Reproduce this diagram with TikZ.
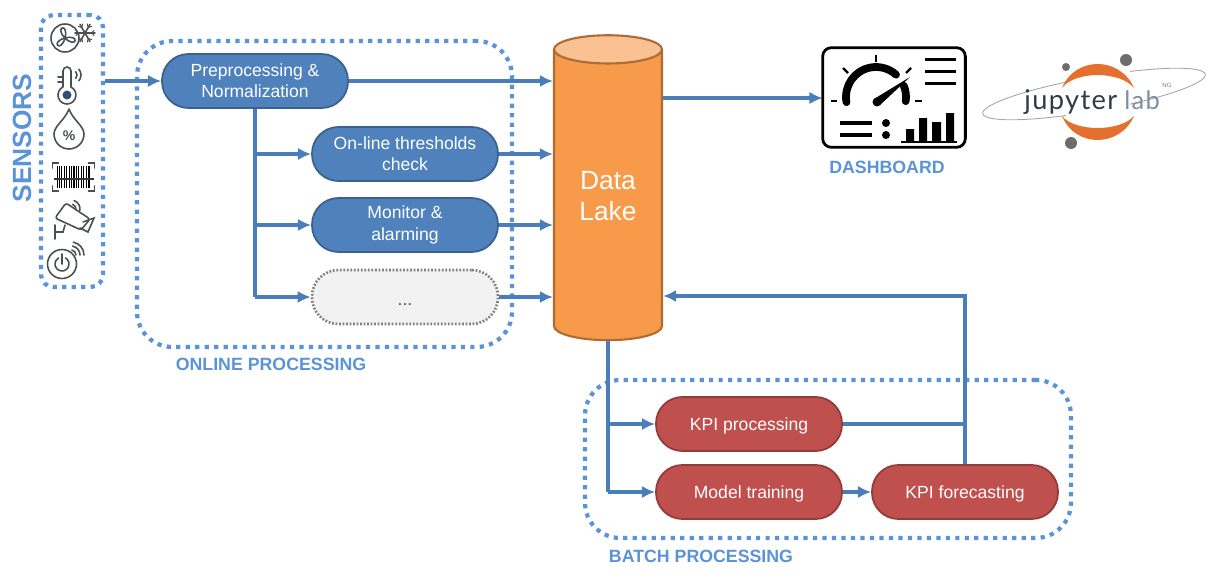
\documentclass[tikz,border=0pt]{standalone}
\usepackage{fontspec}
\setmainfont{Liberation Sans}
\newfontfamily\logofont[LetterSpace=5]{Lato}
\usetikzlibrary{shapes.geometric,arrows.meta}
\definecolor{lineblue}{HTML}{4A7EBB}
\definecolor{dotblue}{HTML}{5B93D8}
\definecolor{boxblue}{HTML}{4F81BD}
\definecolor{boxred}{HTML}{C0504D}
\definecolor{lakeorange}{HTML}{F79A4A}
\definecolor{icongray}{HTML}{4A4F55}
\definecolor{logoorange}{HTML}{E5702D}
\definecolor{logodark}{HTML}{2F3B45}
\definecolor{logolab}{HTML}{7A90A4}
\tikzset{
  flow/.style={draw=lineblue, line width=2.1pt, -{Latex[length=7.5pt,width=7pt]}},
  plainflow/.style={draw=lineblue, line width=2.1pt},
  group/.style={draw=dotblue, line width=2.4pt, dash pattern=on 2.4pt off 3pt, rounded corners=20pt, inner sep=0pt},
  pill/.style={rounded corners=15pt, minimum width=3.72cm, minimum height=1.08cm, align=center, text=white, font=\fontsize{10pt}{12.2pt}\selectfont, line width=1pt, execute at begin node={\rule{0pt}{9.3pt}}},
  onlinebox/.style={pill, draw=boxblue!75!black, fill=boxblue},
  batchbox/.style={pill, draw=boxred!75!black, fill=boxred},
  caption/.style={text=dotblue, font=\bfseries\fontsize{10.1pt}{12pt}\selectfont, inner sep=0pt},
  icon/.style={draw=icongray, line width=.9pt, line cap=round},
  darkbar/.style={draw=black, line width=1.9pt},
}
\begin{document}
\begin{tikzpicture}[x=.02cm, y=-.02cm]
\useasboundingbox (0,0) rectangle (1224,578);
% groups
\node[group, rounded corners=7pt, minimum width=1.24cm, minimum height=5.44cm] (sensors) at (72,151) {};
\node[group, minimum width=7.5cm, minimum height=6.12cm] (online) at (324.5,194) {};
\node[group, minimum width=9.72cm, minimum height=3.16cm] (batch) at (828,459) {};
% blocks
\node[onlinebox] (prep) at (255,81) {Preprocessing \&\\Normalization};
\node[onlinebox] (thresh) at (405,154) {On-line thresholds\\check};
\node[onlinebox] (monitor) at (405,225) {Monitor \&\\alarming};
\node[pill, draw=gray, fill=gray!10, densely dotted, line width=1.5pt, text=black!70, execute at begin node={\rule{0pt}{8pt}}] (more) at (405,297) {...};
\node[batchbox] (kpi) at (749,424) {KPI processing};
\node[batchbox] (train) at (749,492) {Model training};
\node[batchbox] (forecast) at (965,492) {KPI forecasting};
\node[cylinder, shape border rotate=90, aspect=.41, draw=lakeorange!70!black, line width=1.2pt,
  cylinder uses custom fill, cylinder body fill=lakeorange, cylinder end fill=lakeorange!60!white,
  minimum width=2.16cm, minimum height=6.1cm, align=center, text=white,
  font=\fontsize{15pt}{17.7pt}\selectfont, execute at end node={\rule[-2.8pt]{0pt}{2.8pt}}] (lake) at (608,198.5) {Data\\Lake};
\node[minimum width=2.84cm, minimum height=1.98cm, inner sep=0pt] (dash) at (894,97.5) {};
% captions
\node[caption, rotate=90, font=\bfseries\fontsize{15pt}{16pt}\selectfont] (sensorstxt) at (22,138) {SENSORS};
\node[caption] (onlinetxt) at (271,364) {ONLINE PROCESSING};
\node[caption] (batchtxt) at (701,556) {BATCH PROCESSING};
\node[caption] (dashtxt) at (887,167) {DASHBOARD};
% connectors
\draw[flow] (sensors.east |- prep.west) -- (prep.west);
\draw[flow] (prep.east) -- (prep.east -| lake.west);
\draw[plainflow] (prep.south) -- (prep.south |- more.west);
\foreach \n in {thresh,monitor,more}{
  \draw[flow] (prep.south |- \n.west) -- (\n.west);
  \draw[flow] (\n.east) -- (\n.east -| lake.west);
}
\coordinate (lakeout) at (lake.east |- 0,98);
\coordinate (dashin) at (dash.west |- 0,98);
\draw[flow] (lakeout) -- (dashin);
\coordinate (lakein) at (lake.east |- 0,296);
\draw[plainflow] (lake.bottom) -- (lake.bottom |- train.west);
\draw[flow] (lake.bottom |- kpi.west) -- (kpi.west);
\draw[flow] (lake.bottom |- train.west) -- (train.west);
\draw[flow] (train.east) -- (forecast.west);
\draw[plainflow] (kpi.east) -- (kpi.east -| forecast.north);
\draw[flow] (forecast.north) -- (forecast.north |- lakein) -- (lakein);
% sensor icons
\begin{scope}[shift={(65,38)}]
  \draw[icon] (0,0) circle (14);
  \foreach \a in {-90,30,150}
    \draw[icon] (0,0) .. controls (\a-45:16) and (\a+15:16) .. (0,0);
\end{scope}
\begin{scope}[shift={(85,33)}]
  \foreach \a in {0,60,...,300}{
    \draw[icon] (0,0) -- (\a:10);
    \draw[icon, line width=.6pt] (\a:6.5) -- ++(\a+45:3.5) (\a:6.5) -- ++(\a-45:3.5);
  }
\end{scope}
\begin{scope}[shift={(67,95)}]
  \draw[icon] (-4,-8) -- (-4,-24) arc (-180:0:4) -- (4,-8) arc (-63.4:243.4:9);
  \fill[boxblue!60!black] (0,0) circle (4.5);
  \draw[icon] (-4,-18) -- (-9,-18) (-4,-13) -- (-9,-13);
  \foreach \r in {5,9}
    \draw[icon] (5,-20) ++(-40:\r) arc (-40:40:\r);
\end{scope}
\begin{scope}[shift={(69,134)}]
  \draw[icon] (0,-25) .. controls (-4,-14) and (-15,-8) .. (-15,0) arc (180:0:15) .. controls (15,-8) and (4,-14) .. (0,-25);
  \node[text=icongray, font=\bfseries\fontsize{8pt}{8pt}\selectfont, inner sep=0pt] (pct) at (0,2) {\%};
\end{scope}
\begin{scope}[shift={(73.5,177)}]
  \foreach \x/\w in {-16/1,-14/.5,-12/.8,-9.5/.5,-7/1.1,-4/.5,-2/.8,.5/1.1,3/.5,5/.9,8/.5,10/1.1,13/.5,15.5/1}
    \draw[black, line width=\w pt] (\x,-11) -- (\x,11);
  \draw[white, line width=1.2pt] (-20,2) -- (20,2);
  \draw[black!80, line width=.7pt] (-20,2) -- (20,2);
  \draw[icon] (-15,-14) -- (-21,-14) -- (-21,-9) (15,-14) -- (21,-14) -- (21,-9);
  \draw[icon] (-15,14) -- (-21,14) -- (-21,9) (15,14) -- (21,14) -- (21,9);
\end{scope}
\begin{scope}
  \draw[icon, rounded corners=1.5pt] (55,218) -- (66,203) -- (90,219) -- (81,230) -- cycle;
  \draw[icon] (83,222) -- (94,218) -- (88,232) -- (80,228);
  \draw[icon] (65,225) -- (63,232) -- (55,232) (55,225) -- (55,239);
  \foreach \r in {5,9}
    \draw[icon] (71,209) ++(-70:\r) arc (-70:10:\r);
\end{scope}
\begin{scope}[shift={(62,264)}]
  \draw[icon] (0,0) circle (14.5);
  \draw[icon] (-60:7) arc (-60:240:7);
  \draw[icon] (0,-10) -- (0,0);
  \foreach \r in {5,9,13}
    \draw[icon] (9,-9) ++(-80:\r) arc (-80:0:\r);
\end{scope}
% dashboard
\draw[black, line width=1.6pt, rounded corners=5pt] (dash.north west) rectangle (dash.south east);
\begin{scope}[shift={(876,97)}]
  \draw[black, line width=4.4pt, line cap=round] (170:30) arc (170:312:30);
  \draw[black, line width=4.4pt, line cap=round] (-22:30) arc (-22:8:30);
  \fill[black] (1,5) circle (4.5);
  \fill[black] (-2,2) -- (34,-20) -- (4,8) -- cycle;
  \draw[black, line width=1.3pt] (0,-35) -- (0,-42);
  \draw[black, line width=1.3pt] (-28,-24) -- (-33,-29) (30,-24) -- (35,-29);
  \draw[black, line width=1.3pt] (-45,4) -- (-39,4) (39,4) -- (46,4);
\end{scope}
\foreach \y in {59.3,71.7,83.3}
  \draw[darkbar] (925,\y) -- (956,\y);
\foreach \y in {123,135}
  \draw[darkbar] (840,\y) -- (872,\y);
\fill[black] (886,123) circle (4) (886,135) circle (4);
\draw[black, line width=1pt] (901,141.7) -- (957,141.7);
\fill[black] (906,129) rectangle (914,141) (919,118) rectangle (927,141) (932,122) rectangle (941,141) (946,113) rectangle (954,141);
% jupyter logo
\draw[gray!70, line width=.5pt, rotate around={10:(1094,94)}] (1094,94) ellipse (113 and 17);
\fill[white] (1066,70) rectangle (1130,117);
\fill[logoorange] (1062,88) .. controls (1075,56) and (1120,56) .. (1134,88) .. controls (1120,70.7) and (1075,70.7) .. (1062,88);
\fill[logoorange] (1062,116) .. controls (1075,148) and (1120,148) .. (1134,116) .. controls (1120,132) and (1075,132) .. (1062,116);
\fill[gray!85!black] (1066,67) circle (4) (1126,60) circle (6) (1071,143) circle (6);
\node[anchor=base west, inner sep=0pt, text=logodark, font=\logofont\fontsize{15.5pt}{16pt}\selectfont] (jupyter) at (1024,109) {jupyter};
\node[anchor=base west, inner sep=0pt, text=logolab, font=\logofont\fontsize{14.5pt}{16pt}\selectfont] (lab) at (1124,109) {lab};
\node[inner sep=0pt, text=gray, font=\fontsize{3.5pt}{4pt}\selectfont] (ng) at (1167,85) {NG};
\end{tikzpicture}
\end{document}
